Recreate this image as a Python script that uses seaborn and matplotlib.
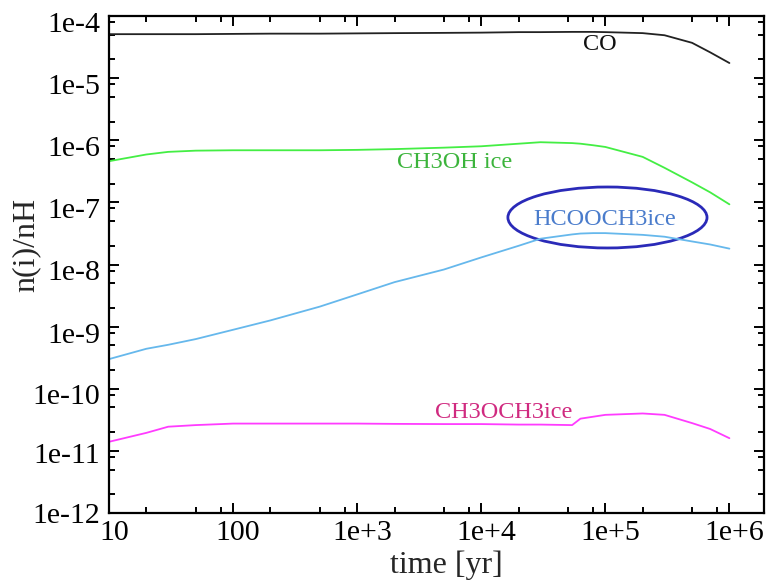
import numpy as np
import pandas as pd
import matplotlib
matplotlib.use("Agg")
import matplotlib.pyplot as plt
import matplotlib.transforms as mtransforms
import seaborn as sns
from matplotlib.patches import Ellipse
from matplotlib.ticker import FixedLocator, FixedFormatter, LogLocator, NullFormatter

# time grid [yr]
time_yr = [10, 20, 30, 50, 100, 200, 500, 1e3, 2e3, 5e3, 1e4, 2e4, 3e4,
           5.4e4, 6.3e4, 8e4, 1e5, 2e5, 3e5, 5e5, 7e5, 1e6]

# fractional abundances n(i)/nH
co = [5.1e-5, 5.1e-5, 5.1e-5, 5.1e-5, 5.15e-5, 5.2e-5, 5.2e-5, 5.25e-5, 5.3e-5,
      5.35e-5, 5.4e-5, 5.5e-5, 5.5e-5, 5.55e-5, 5.55e-5, 5.55e-5, 5.5e-5,
      5.3e-5, 4.9e-5, 3.7e-5, 2.6e-5, 1.75e-5]
ch3oh_ice = [4.6e-7, 5.9e-7, 6.5e-7, 6.8e-7, 6.9e-7, 6.9e-7, 6.9e-7, 7.0e-7,
             7.2e-7, 7.6e-7, 8.0e-7, 8.8e-7, 9.3e-7, 9.0e-7, 8.8e-7, 8.3e-7,
             7.8e-7, 5.4e-7, 3.6e-7, 2.1e-7, 1.45e-7, 9.3e-8]
hcooch3_ice = [3.0e-10, 4.4e-10, 5.1e-10, 6.3e-10, 8.9e-10, 1.26e-9, 2.1e-9,
               3.3e-9, 5.2e-9, 8.3e-9, 1.3e-8, 2.0e-8, 2.6e-8, 3.05e-8,
               3.15e-8, 3.2e-8, 3.2e-8, 3.0e-8, 2.8e-8, 2.35e-8, 2.1e-8, 1.8e-8]
ch3och3_ice = [1.4e-11, 1.95e-11, 2.45e-11, 2.6e-11, 2.75e-11, 2.75e-11,
               2.75e-11, 2.75e-11, 2.72e-11, 2.7e-11, 2.7e-11, 2.65e-11,
               2.65e-11, 2.6e-11, 3.3e-11, 3.55e-11, 3.8e-11, 4.0e-11, 3.8e-11,
               2.8e-11, 2.25e-11, 1.6e-11]

species = ["CO", "CH3OH ice", "HCOOCH3ice", "CH3OCH3ice"]
line_colors = ["#222222", "#44ee44", "#66b8ec", "#ff3cff"]
text_colors = ["#111111", "#3cb43c", "#4a7ccc", "#d02a80"]

x_ticks = [10, 100, 1e3, 1e4, 1e5, 1e6]
x_tick_labels = ["10", "100", "1e+3", "1e+4", "1e+5", "1e+6"]
y_ticks = [1e-12, 1e-11, 1e-10, 1e-9, 1e-8, 1e-7, 1e-6, 1e-5, 1e-4]
y_tick_labels = ["1e-12", "1e-11", "1e-10", "1e-9", "1e-8", "1e-7", "1e-6",
                 "1e-5", "1e-4"]

df = pd.concat([
    pd.DataFrame({"time": time_yr, "abundance": vals, "species": name})
    for name, vals in zip(species, [co, ch3oh_ice, hcooch3_ice, ch3och3_ice])
], ignore_index=True)

sns.set_style("ticks")
plt.rcParams["font.family"] = ["Liberation Serif", "DejaVu Serif"]

W, H = 769, 582
fig = plt.figure(figsize=(W / 100, H / 100), dpi=100)
ax_l, ax_r, ax_t, ax_b = 109, 764, 16, 513
ax = fig.add_axes([ax_l / W, (H - ax_b) / H, (ax_r - ax_l) / W, (ax_b - ax_t) / H])
ax.set_xscale("log")
ax.set_yscale("log")

sns.lineplot(data=df, x="time", y="abundance", hue="species",
             palette=dict(zip(species, line_colors)), estimator=None,
             sort=False, linewidth=1.3, legend=False, ax=ax)

ax.set_xlim(10, 1.9e6)
ax.set_ylim(1e-12, 1e-4)

ax.xaxis.set_major_locator(FixedLocator(x_ticks))
ax.xaxis.set_major_formatter(FixedFormatter(x_tick_labels))
ax.yaxis.set_major_locator(FixedLocator(y_ticks))
ax.yaxis.set_major_formatter(FixedFormatter(y_tick_labels))
ax.xaxis.set_minor_locator(LogLocator(base=10, subs=[2, 5, 8]))
ax.yaxis.set_minor_locator(LogLocator(base=10, subs=[2, 5, 8]))
ax.xaxis.set_minor_formatter(NullFormatter())
ax.yaxis.set_minor_formatter(NullFormatter())

ax.tick_params(which="both", direction="in", top=True, right=True,
               colors="black", width=1.4, labelsize=21.5)
ax.tick_params(which="major", length=7)
ax.tick_params(which="minor", length=4.5)
ax.tick_params(axis="x", which="major", pad=5)
ax.tick_params(axis="y", which="major", pad=6.5)
for s in ax.spines.values():
    s.set_linewidth(1.6)
    s.set_color("black")

# nudge tick labels: x labels a little to the right, y labels a little down
px = 1 / 100
for t in ax.xaxis.get_major_ticks():
    t.label1.set_transform(t.label1.get_transform() +
                           mtransforms.ScaledTranslation(5 * px, 0, fig.dpi_scale_trans))
y_shift_px = [0, -2, -5, -6, -6, -6, -6, -6, -6]
for t, dy in zip(ax.yaxis.get_major_ticks(), y_shift_px):
    t.label1.set_transform(t.label1.get_transform() +
                           mtransforms.ScaledTranslation(0, dy * px, fig.dpi_scale_trans))

ax.set_xlabel("time [yr]", fontsize=23)
ax.set_ylabel("n(i)/nH", fontsize=23)
ax.xaxis.label.set_verticalalignment("baseline")
ax.xaxis.set_label_coords(0.5156, -0.1207)
ax.yaxis.set_label_coords(-0.105, 0.539)

# species labels, placed in axes-fraction coordinates
label_xy = [(0.750, 0.942), (0.528, 0.706), (0.756, 0.590), (0.602, 0.203)]
for name, (lx, ly), c in zip(species, label_xy, text_colors):
    ax.text(lx, ly, name, transform=ax.transAxes, ha="center", va="center",
            fontsize=17.5, color=c)

# highlight ring around the HCOOCH3 label
ax.add_patch(Ellipse((0.761, 0.5946), 0.304, 0.1227, transform=ax.transAxes,
                     fill=False, edgecolor="#2a2ab8", linewidth=2.0,
                     clip_on=False))

fig.savefig("out.png", dpi=100)
